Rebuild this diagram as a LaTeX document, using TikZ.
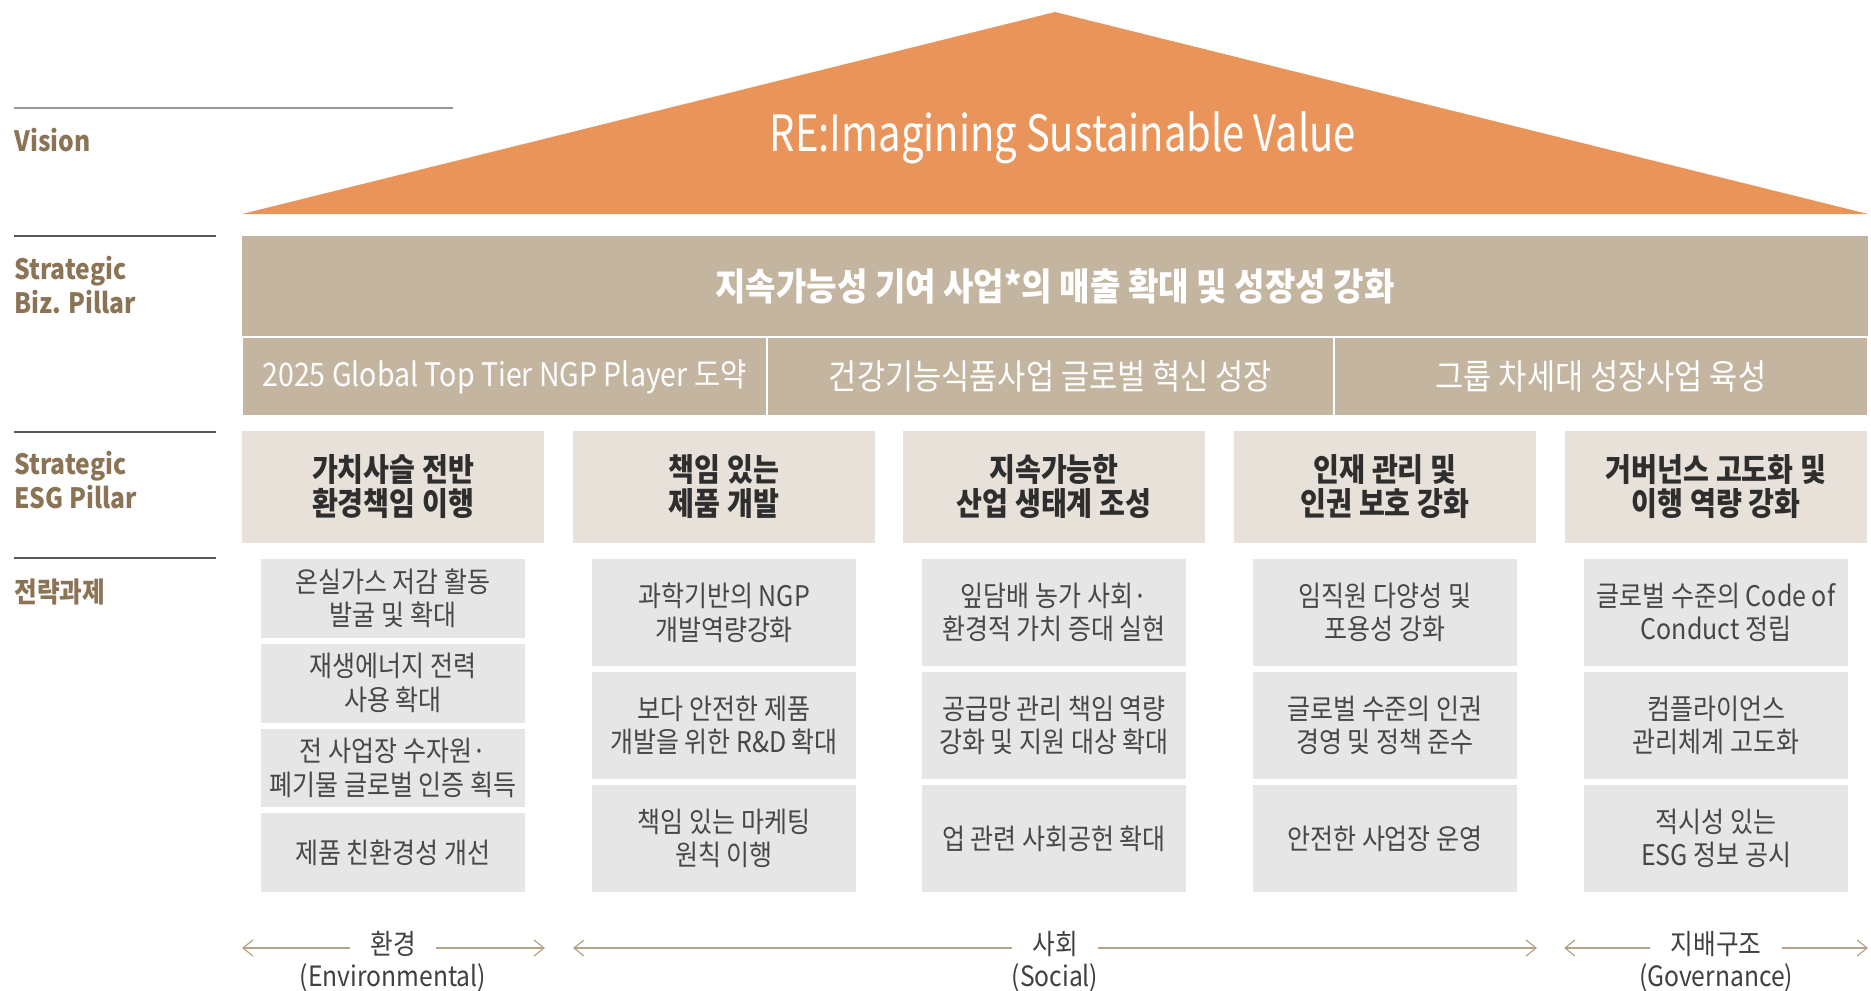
\documentclass[tikz,border=0pt]{standalone}
\usepackage{fontspec}
\setmainfont{Noto Sans CJK KR}
\newfontfamily\krnarrow[FakeStretch=0.88]{Noto Sans CJK KR}
\newfontfamily\krtight[FakeStretch=0.8]{Noto Sans CJK KR}
\usetikzlibrary{arrows.meta}

\definecolor{roofcol}{HTML}{E8945A}
\definecolor{bizcol}{HTML}{C4B5A0}
\definecolor{esgcol}{HTML}{E8E1D9}
\definecolor{taskcol}{HTML}{E6E6E6}
\definecolor{sidebrown}{HTML}{8B7355}
\definecolor{axiscol}{HTML}{B5A487}

\tikzset{
  sidelabel/.style={anchor=north west, inner sep=0pt, align=left, text=sidebrown,
    font=\krnarrow\bfseries\fontsize{14}{17}\selectfont},
  siderule/.style={draw=black!65, line width=0.7pt},
  bizbox/.style={fill=bizcol, text=white, inner sep=0pt, outer sep=0pt, minimum height=39.5pt,
    draw=white, line width=1pt, font=\krnarrow\fontsize{17.4}{20}\selectfont},
  esgbox/.style={fill=esgcol, minimum width=151pt, minimum height=56pt, inner sep=0pt,
    align=center, text=black!82, font=\krnarrow\bfseries\fontsize{16}{17}\selectfont},
  taskbox/.style={fill=taskcol, minimum width=132pt, inner sep=0pt, align=center,
    text=black!72, font=\krnarrow\fontsize{14.2}{16.8}\selectfont},
  taskfour/.style={taskbox, minimum height=39.4pt},
  taskthree/.style={taskbox, minimum height=53.5pt},
  sector/.style={inner xsep=10pt, inner ysep=0pt, text=black!75,
    font=\krnarrow\fontsize{14}{16}\selectfont},
  sectorsub/.style={inner sep=0pt, text=black!75, font=\krnarrow\fontsize{14}{16}\selectfont},
  axis/.style={draw=axiscol, line width=0.6pt, -{Straight Barb[length=5pt,width=8pt]}}
}

\begin{document}
\begin{tikzpicture}[x=0.5pt, y=-0.5pt]
\useasboundingbox (0,0) rectangle (1871,990);

\draw[draw=black!40, line width=0.8pt] (14,108) -- (453,108);
\draw[siderule] (14,236) -- (216,236);
\draw[siderule] (14,432) -- (216,432);
\draw[siderule] (14,558) -- (216,558);
\node[sidelabel] (lvision) at (14,128) {Vision};
\node[sidelabel] (lbiz) at (14,256) {Strategic\\Biz. Pillar};
\node[sidelabel] (lesg) at (14,451) {Strategic\\ESG Pillar};
\node[sidelabel] (ltask) at (14,578) {전략과제};

\fill[roofcol] (242,214) -- (1055,12) -- (1868,214) -- cycle;
\node[text=white, font=\krtight\fontsize{25}{28}\selectfont] (vision) at (1063,138) {RE:Imagining Sustainable Value};

\node[fill=bizcol, text=white, inner sep=0pt, minimum width=813pt, minimum height=50.5pt,
  font=\krnarrow\bfseries\fontsize{18.8}{21}\selectfont] (bizmain) at (1055,286.5)
  {지속가능성 기여 사업*의 매출 확대 및 성장성 강화};
\node[bizbox, minimum width=262.5pt, font=\krnarrow\fontsize{16.2}{19}\selectfont] (biza) at (504.5,376.5) {2025 Global Top Tier NGP Player 도약};
\node[bizbox, minimum width=283.5pt] (bizb) at (1050.5,376.5) {건강기능식품사업 글로벌 혁신 성장};
\node[bizbox, minimum width=267pt] (bizc) at (1601,376.5) {그룹 차세대 성장사업 육성};

\node[esgbox] (esga) at (393,487) {가치사슬 전반\\환경책임 이행};
\node[esgbox] (esgb) at (724,487) {책임 있는\\제품 개발};
\node[esgbox] (esgc) at (1054,487) {지속가능한\\산업 생태계 조성};
\node[esgbox] (esgd) at (1385,487) {인재 관리 및\\인권 보호 강화};
\node[esgbox] (esge) at (1716,487) {거버넌스 고도화 및\\이행 역량 강화};

\node[taskfour] (ta1) at (393,598.4) {온실가스 저감 활동\\발굴 및 확대};
\node[taskfour] (ta2) at (393,683.1) {재생에너지 전력\\사용 확대};
\node[taskfour] (ta3) at (393,767.9) {전 사업장 수자원·\\폐기물 글로벌 인증 획득};
\node[taskfour] (ta4) at (393,852.6) {제품 친환경성 개선};

\node[taskthree] (tb1) at (724,612.5) {과학기반의 NGP\\개발역량강화};
\node[taskthree] (tb2) at (724,725.5) {보다 안전한 제품\\개발을 위한 R\&D 확대};
\node[taskthree] (tb3) at (724,838.5) {책임 있는 마케팅\\원칙 이행};

\node[taskthree] (tc1) at (1054,612.5) {잎담배 농가 사회·\\환경적 가치 증대 실현};
\node[taskthree] (tc2) at (1054,725.5) {공급망 관리 책임 역량\\강화 및 지원 대상 확대};
\node[taskthree] (tc3) at (1054,838.5) {업 관련 사회공헌 확대};

\node[taskthree] (td1) at (1385,612.5) {임직원 다양성 및\\포용성 강화};
\node[taskthree] (td2) at (1385,725.5) {글로벌 수준의 인권\\경영 및 정책 준수};
\node[taskthree] (td3) at (1385,838.5) {안전한 사업장 운영};

\node[taskthree] (te1) at (1716,612.5) {글로벌 수준의 Code of\\Conduct 정립};
\node[taskthree] (te2) at (1716,725.5) {컴플라이언스\\관리체계 고도화};
\node[taskthree] (te3) at (1716,838.5) {적시성 있는\\ESG 정보 공시};

\node[sector] (env) at (393,944) {환경};
\node[sectorsub] (envsub) at (393,978) {(Environmental)};
\node[sector] (soc) at (1055,944) {사회};
\node[sectorsub] (socsub) at (1055,978) {(Social)};
\node[sector] (gov) at (1716,944) {지배구조};
\node[sectorsub] (govsub) at (1716,978) {(Governance)};
\coordinate (envl) at (242,948);
\coordinate (envr) at (545,948);
\coordinate (socl) at (573,948);
\coordinate (socr) at (1537,948);
\coordinate (govl) at (1564,948);
\coordinate (govr) at (1868,948);
\draw[axis] (env.west |- envl) -- (envl);
\draw[axis] (env.east |- envr) -- (envr);
\draw[axis] (soc.west |- socl) -- (socl);
\draw[axis] (soc.east |- socr) -- (socr);
\draw[axis] (gov.west |- govl) -- (govl);
\draw[axis] (gov.east |- govr) -- (govr);
\end{tikzpicture}
\end{document}
